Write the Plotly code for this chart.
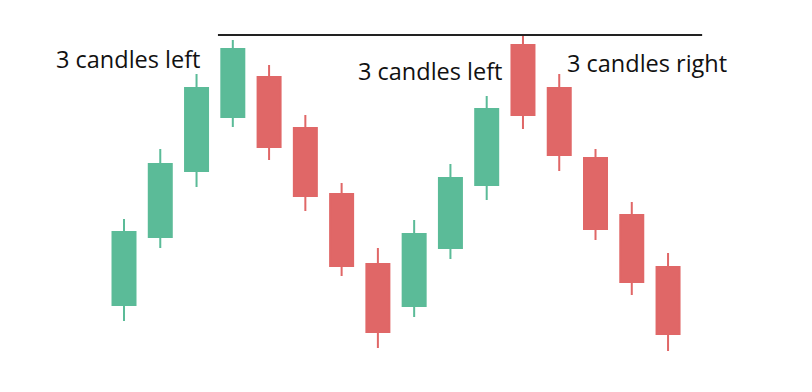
import plotly.graph_objects as go

idx = list(range(16))
opens  = [55, 123, 189, 243, 283, 232, 166, 96, 54, 112, 175, 315, 272, 202, 145, 93]
highs  = [141, 211, 286, 320, 295, 245, 177, 112, 140, 196, 264, 325, 286, 211, 158, 107]
lows   = [39, 112, 173, 233, 200, 149, 84, 12, 43, 101, 160, 231, 189, 120, 65, 9]
closes = [128, 196, 272, 311, 213, 164, 94, 28, 126, 182, 251, 245, 205, 131, 78, 26]

level = 325
line_x = [2.59, 15.94]

labels = ["3 candles left", "3 candles left", "3 candles right"]
label_x = [-1.93, 6.4, 12.16]
label_y = [301, 289, 297]

GREEN = "#5bbb98"
RED = "#e06767"

fig = go.Figure()
fig.add_trace(go.Candlestick(
    x=idx, open=opens, high=highs, low=lows, close=closes,
    increasing=dict(line=dict(color=GREEN, width=2), fillcolor=GREEN),
    decreasing=dict(line=dict(color=RED, width=2), fillcolor=RED),
    whiskerwidth=0, showlegend=False, hoverinfo="skip",
))

fig.add_shape(type="line", xref="x", yref="y",
              x0=line_x[0], x1=line_x[1], y0=level, y1=level,
              line=dict(color="#222222", width=2))

for t, x, y in zip(labels, label_x, label_y):
    fig.add_annotation(text=t, x=x, y=y, xref="x", yref="y",
                       xanchor="left", yanchor="middle", showarrow=False,
                       font=dict(family="Open Sans", size=23.5, color="#111111"))

fig.update_layout(
    width=812, height=392,
    margin=dict(l=0, r=0, t=0, b=0),
    paper_bgcolor="white", plot_bgcolor="white",
    boxgap=0.366, boxgroupgap=0,
    xaxis=dict(range=[-3.419, 18.969], visible=False, rangeslider=dict(visible=False)),
    yaxis=dict(range=[-32, 360], visible=False),
)

fig.write_html("out.html")
